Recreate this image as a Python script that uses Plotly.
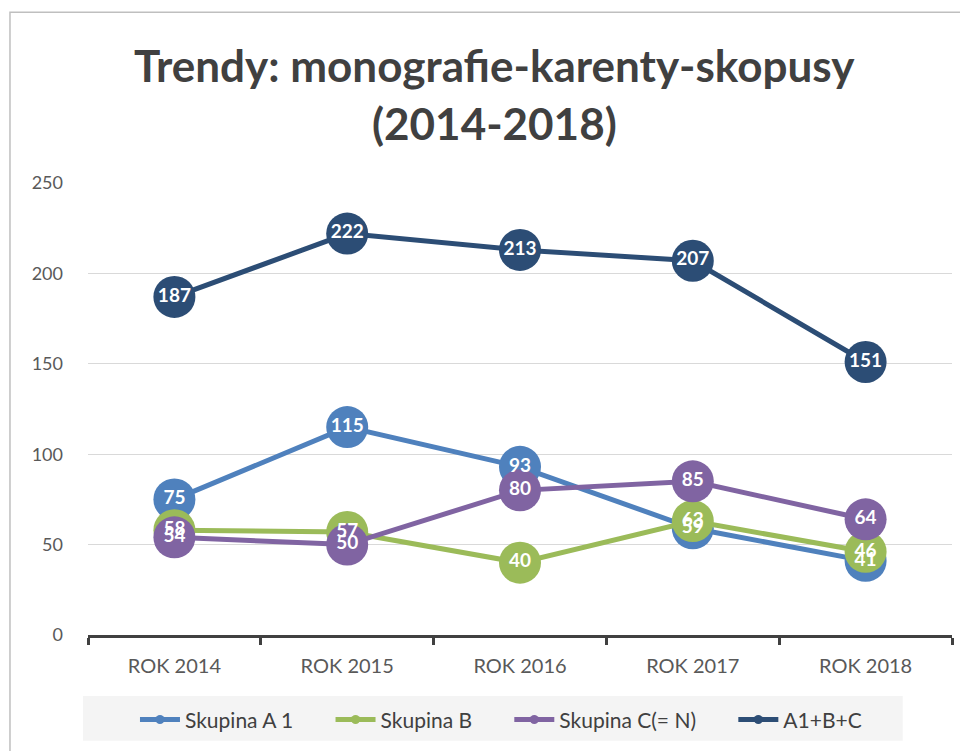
import plotly.graph_objects as go

years = ["ROK 2014", "ROK 2015", "ROK 2016", "ROK 2017", "ROK 2018"]
skupina_a1 = [75, 115, 93, 59, 41]
skupina_b = [58, 57, 40, 63, 46]
skupina_c = [54, 50, 80, 85, 64]
celkem = [187, 222, 213, 207, 151]

names = ["Skupina A 1", "Skupina B", "Skupina C(= N)", "A1+B+C"]
colors = ["#4F81BD", "#9BBB59", "#8064A2", "#2C4D75"]
series = [skupina_a1, skupina_b, skupina_c, celkem]

FONT = "Lato"
PAD = "\u00a0" * 6

fig = go.Figure()

# lines + big round markers
for name, vals, col in zip(names, series, colors):
    fig.add_trace(go.Scatter(
        x=years, y=vals, mode="lines+markers", name=name,
        line=dict(color=col, width=5),
        marker=dict(size=42, color=col),
        showlegend=False, hoverinfo="skip"
    ))

# data labels on top of all markers
for vals in series:
    fig.add_trace(go.Scatter(
        x=years, y=vals, mode="text", text=[str(v) for v in vals],
        textposition="middle center",
        textfont=dict(family=FONT, size=19, color="white", weight="bold"),
        showlegend=False, hoverinfo="skip"
    ))

# legend entries with small markers
for name, col in zip(names, colors):
    fig.add_trace(go.Scatter(
        x=[None], y=[None], mode="lines+markers", name=name + PAD,
        line=dict(color=col, width=5),
        marker=dict(size=9, color=col),
    ))

fig.add_annotation(
    text="Trendy: monografie-karenty-skopusy", xref="paper", yref="paper",
    x=0.471, y=1.2605, showarrow=False, yanchor="middle",
    font=dict(family=FONT, size=44, color="#404040", weight="bold")
)
fig.add_annotation(
    text="(2014-2018)", xref="paper", yref="paper",
    x=0.471, y=1.1325, showarrow=False, yanchor="middle",
    font=dict(family=FONT, size=44, color="#404040", weight="bold")
)

# outer chart border and legend background
fig.add_shape(type="rect", xref="paper", yref="paper",
              x0=-0.0903, x1=1.03, y0=-0.3, y1=1.3775,
              line=dict(color="#BFBFBF", width=1.5), layer="below")
fig.add_shape(type="rect", xref="paper", yref="paper",
              x0=-0.0058, x1=0.943, y0=-0.234, y1=-0.1347,
              fillcolor="#F4F4F4", line=dict(width=0), layer="below")

fig.update_layout(
    width=960,
    height=743,
    margin=dict(l=80, r=16, t=175, b=115),
    paper_bgcolor="white",
    plot_bgcolor="white",
    showlegend=True,
    legend=dict(
        orientation="h", x=0.4965, xanchor="center", y=-0.185, yanchor="middle",
        font=dict(family=FONT, size=21, color="#404040"),
        bgcolor="rgba(0,0,0,0)", itemwidth=40
    ),
    xaxis=dict(
        range=[-0.5, 4.5],
        showgrid=False, showline=True, linecolor="#404040", linewidth=3,
        ticks="outside", tickson="boundaries", ticklen=7, tickwidth=3,
        tickcolor="#404040", ticklabelstandoff=11,
        tickfont=dict(family=FONT, size=20, color="#595959"),
        fixedrange=True
    ),
    yaxis=dict(
        range=[0, 250], dtick=50, showgrid=True, gridcolor="#D9D9D9",
        gridwidth=1, zeroline=False, showline=False,
        ticklabelstandoff=24,
        tickfont=dict(family=FONT, size=18, color="#595959"),
        fixedrange=True
    ),
)

fig.write_html("out.html")
